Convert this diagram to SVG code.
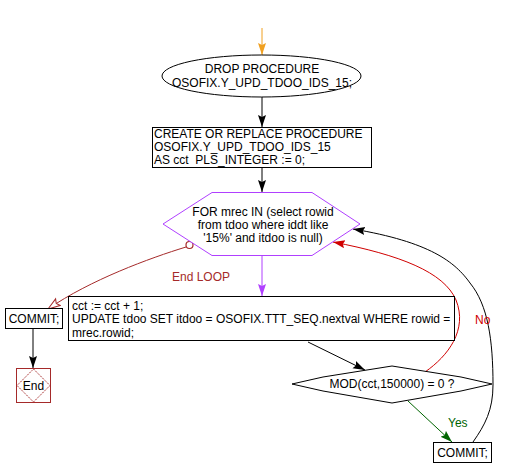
<svg xmlns="http://www.w3.org/2000/svg" width="506" height="476" viewBox="0 0 506 476">
<style>
text{font-family:"Liberation Sans",Arial,sans-serif;font-size:12px;fill:#000}
.c{text-anchor:middle}
.box{fill:#fff;stroke:#000;stroke-width:1}
.ln{fill:none;stroke-width:1}
</style>
<defs>
<marker id="aBlack" markerUnits="userSpaceOnUse" markerWidth="13" markerHeight="9" refX="12" refY="4" orient="auto"><path d="M0,0 L12,4 L0,8 L2,4 z" fill="#000"/></marker>
<marker id="aOrange" markerUnits="userSpaceOnUse" markerWidth="13" markerHeight="9" refX="12" refY="4" orient="auto"><path d="M0,0 L12,4 L0,8 L2,4 z" fill="#f0a020"/></marker>
<marker id="aPurple" markerUnits="userSpaceOnUse" markerWidth="13" markerHeight="9" refX="12" refY="4" orient="auto"><path d="M0,0 L12,4 L0,8 L2,4 z" fill="#b040ff"/></marker>
<marker id="aRed" markerUnits="userSpaceOnUse" markerWidth="13" markerHeight="9" refX="12" refY="4" orient="auto"><path d="M0,0 L12,4 L0,8 L2,4 z" fill="#d00000"/></marker>
<marker id="aGreen" markerUnits="userSpaceOnUse" markerWidth="13" markerHeight="9" refX="12" refY="4" orient="auto"><path d="M0,0 L12,4 L0,8 L2,4 z" fill="#006400"/></marker>
<marker id="aOpen" markerUnits="userSpaceOnUse" markerWidth="15" markerHeight="11" refX="13" refY="5" orient="auto"><path d="M1,1 L13,5 L1,9 L3,5 z" fill="#fff" stroke="#a52a2a" stroke-width="1"/></marker>
</defs>
<rect width="506" height="476" fill="#fff"/>

<g id="connectors">
<path class="ln" stroke="#f0a020" d="M262,28 L262,55" marker-end="url(#aOrange)"/>
<path class="ln" stroke="#000" d="M262,97 L262,127" marker-end="url(#aBlack)"/>
<path class="ln" stroke="#000" d="M262,168 L262,192" marker-end="url(#aBlack)"/>
<path class="ln" stroke="#b040ff" d="M262,256 L262,296" marker-end="url(#aPurple)"/>
<path class="ln" stroke="#000" d="M308,342 L365,370" marker-end="url(#aBlack)"/>
<path class="ln" stroke="#006400" d="M408,401 L452,442" marker-end="url(#aGreen)"/>
<path class="ln" stroke="#d00000" d="M425,372 C448,356 468,330 456,300 C444,272 400,255 333,242" marker-end="url(#aRed)"/>
<path class="ln" stroke="#000" d="M473,442 C485,425 493,410 493,385 C493,340 488,305 470,283 C455,262 430,242 353,229" marker-end="url(#aBlack)"/>
<path class="ln" stroke="#a52a2a" d="M186,247 C150,258 90,280 48,309" marker-end="url(#aOpen)"/>
<circle cx="189.5" cy="245" r="3.5" fill="#fff" stroke="#a52a2a" stroke-width="1.2"/>
<path class="ln" stroke="#000" d="M33,328 L33,368" marker-end="url(#aBlack)"/>
<text x="172" y="281" style="fill:#a52a2a">End LOOP</text>
<text x="475" y="324" style="fill:#d00000">No</text>
<text x="448" y="427" style="fill:#006400">Yes</text>
</g>

<g id="drop">
<ellipse cx="261.5" cy="76" rx="99.5" ry="21" class="box"/>
<text class="c" x="262" y="73">DROP PROCEDURE</text>
<text class="c" x="262" y="87">OSOFIX.Y_UPD_TDOO_IDS_15;</text>
</g>

<g id="create">
<rect x="152.5" y="127.5" width="219" height="40" class="box"/>
<text x="154" y="137.5">CREATE OR REPLACE PROCEDURE</text>
<text x="154" y="150.5">OSOFIX.Y_UPD_TDOO_IDS_15</text>
<text x="154" y="163.5" xml:space="preserve" style="white-space:pre">AS cct  PLS_INTEGER := 0;</text>
</g>

<g id="loop">
<polygon points="163,224 212,192.5 312,192.5 360,224 312,255.5 212,255.5" fill="#fff" stroke="#b040ff" stroke-width="1"/>
<text class="c" x="263" y="216">FOR mrec IN (select rowid</text>
<text class="c" x="263" y="229">from tdoo where iddt like</text>
<text class="c" x="263" y="242">'15%' and itdoo is null)</text>
</g>

<g id="update">
<rect x="68.5" y="296.5" width="386" height="44" class="box"/>
<text x="72" y="310">cct := cct + 1;</text>
<text x="72" y="323">UPDATE tdoo SET itdoo = OSOFIX.TTT_SEQ.nextval WHERE rowid =</text>
<text x="72" y="337">mrec.rowid;</text>
</g>

<g id="mod">
<polygon points="292,384 323,377 392,366 461,377 492,384 461,391 392,403 323,391" class="box"/>
<text class="c" x="392" y="388">MOD(cct,150000) = 0 ?</text>
</g>

<g id="commit1">
<rect x="5.5" y="308.5" width="57" height="20" class="box"/>
<text class="c" x="34" y="323">COMMIT;</text>
</g>

<g id="end">
<rect x="16.5" y="368.5" width="34" height="34" fill="#fff" stroke="#a52a2a" stroke-width="1"/>
<polygon points="33.5,369 50,385.5 33.5,402 17,385.5" fill="none" stroke="#a52a2a" stroke-width="1" stroke-dasharray="1.5,1"/>
<text class="c" x="33.5" y="390">End</text>
</g>

<g id="commit2">
<rect x="433.5" y="442.5" width="58" height="20" class="box"/>
<text class="c" x="462.5" y="457">COMMIT;</text>
</g>
</svg>
